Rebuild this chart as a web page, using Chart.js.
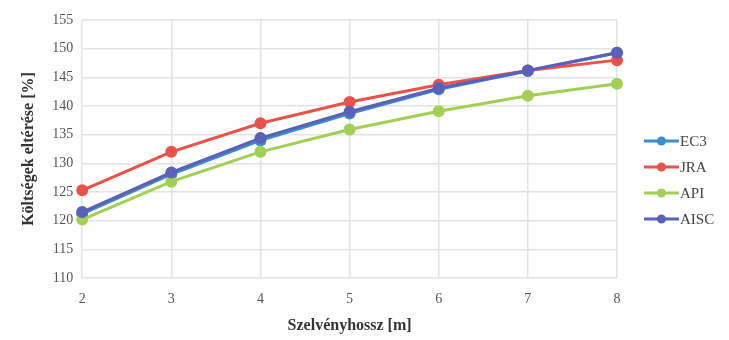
<!DOCTYPE html>
<html><head><meta charset="utf-8">
<script src="https://cdn.jsdelivr.net/npm/chart.js@4/dist/chart.umd.min.js"></script>
<style>html,body{margin:0;padding:0;background:#fff}#wrap{width:729px;height:340px;position:relative}</style>
</head><body><div id="wrap"><canvas id="c"></canvas></div>
<script>
const categories = ['2','3','4','5','6','7','8'];
const ec3  = [121.2, 128.1, 134.0, 138.7, 142.9, 146.1, 149.3];
const jra  = [125.3, 132.0, 137.0, 140.7, 143.7, 146.2, 148.0];
const api  = [120.2, 126.8, 132.0, 135.9, 139.1, 141.8, 143.9];
const aisc = [121.5, 128.4, 134.4, 139.0, 143.1, 146.2, 149.3];
const seriesNames = ['EC3','JRA','API','AISC'];
const yTicks = [110,115,120,125,130,135,140,145,150,155];

const colors = ['#3b8ec8','#e8524a','#a3cf55','#5b60b8'];
const serif = "'Liberation Serif', 'Times New Roman', serif";

const legendPlugin = {
  id:'sideLegend',
  afterDraw(chart){
    const ctx = chart.ctx;
    const x0 = 644, y0 = 141, dy = 26;
    chart.data.datasets.forEach((ds,i)=>{
      const y = y0 + i*dy;
      ctx.save();
      ctx.strokeStyle = ds.borderColor; ctx.lineWidth = 3;
      ctx.beginPath(); ctx.moveTo(x0,y); ctx.lineTo(x0+35,y); ctx.stroke();
      ctx.fillStyle = ds.backgroundColor;
      ctx.beginPath(); ctx.arc(x0+17.5,y,4.5,0,Math.PI*2); ctx.fill();
      ctx.fillStyle = '#444'; ctx.font = "15px " + serif;
      ctx.textBaseline = 'middle'; ctx.textAlign='left';
      ctx.fillText(ds.label, x0+36, y+1);
      ctx.restore();
    });
  }
};

const dataArrs = [ec3, jra, api, aisc];
const orders = [3,2,1,0];
new Chart(document.getElementById('c'), {
  type:'line',
  data:{
    labels: categories,
    datasets: seriesNames.map((n,i)=>({
      label:n, data:dataArrs[i], borderColor:colors[i], backgroundColor:colors[i],
      borderWidth:3, pointRadius:4.5, pointHoverRadius:4.5, tension:0, order:orders[i]
    }))
  },
  options:{
    responsive:true, maintainAspectRatio:false, animation:false,
    layout:{padding:{left:19, right:112, top:20, bottom:5}},
    plugins:{legend:{display:false}, tooltip:{enabled:false}},
    scales:{
      x:{
        offset:false,
        grid:{color:'#e3e3e3', lineWidth:1.5, drawTicks:false},
        border:{display:false},
        ticks:{font:{family:serif,size:14}, color:'#555', padding:13},
        title:{display:true, text:'Szelvényhossz [m]', font:{family:serif,size:16,weight:'bold'}, color:'#333', padding:{top:-5,bottom:0}}
      },
      y:{
        min:110, max:155,
        afterBuildTicks(axis){ axis.ticks = yTicks.map(v=>({value:v})); },
        grid:{color:'#e3e3e3', lineWidth:1.5, drawTicks:false},
        border:{display:false},
        ticks:{font:{family:serif,size:14}, color:'#555', padding:9},
        title:{display:true, text:'Költségek eltérése [%]', font:{family:serif,size:16,weight:'bold'}, color:'#333', padding:{top:0,bottom:5}}
      }
    }
  },
  plugins:[legendPlugin]
});
</script></body></html>
